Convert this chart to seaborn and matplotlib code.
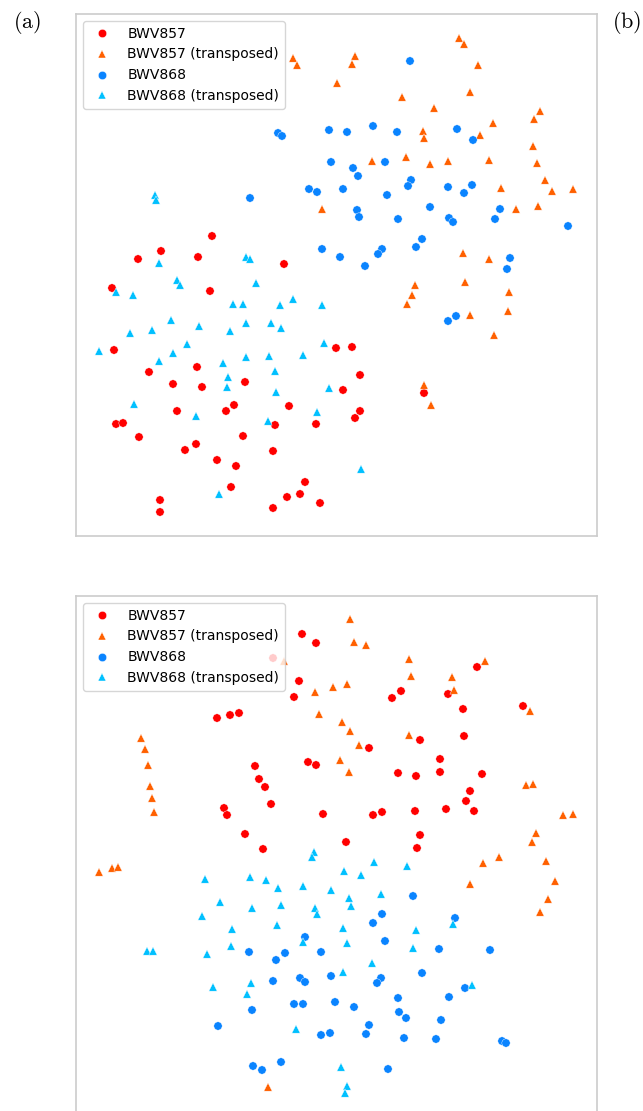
import numpy as np
import pandas as pd
import seaborn as sns
import matplotlib.pyplot as plt

# t-SNE style embedding of two pieces and their transpositions
pieces = ['BWV857', 'BWV857 (transposed)', 'BWV868', 'BWV868 (transposed)']

# panel (a)
a_857 = [(212, 236), (161, 251), (138, 259), (198, 257), (284, 264), (112, 288), (210, 291), (114, 350),
         (149, 372), (197, 367), (173, 384), (202, 387), (245, 382), (234, 405), (226, 411), (177, 411),
         (289, 406), (275, 425), (316, 424), (116, 424), (123, 423), (139, 437), (243, 436), (196, 444),
         (185, 450), (273, 451), (217, 460), (236, 466), (305, 482), (231, 487), (287, 497), (300, 494),
         (320, 503), (160, 500), (160, 512), (273, 508), (336, 348), (352, 347), (360, 375), (343, 390),
         (360, 411), (355, 418), (424, 393)]
a_857t = [(293, 58), (297, 65), (322, 209), (459, 38), (464, 44), (355, 56), (352, 64), (478, 65),
          (337, 83), (470, 92), (402, 97), (434, 108), (540, 111), (534, 119), (493, 123), (423, 131),
          (424, 138), (480, 135), (533, 146), (372, 161), (406, 157), (430, 164), (448, 161), (489, 160),
          (537, 163), (545, 180), (501, 188), (552, 191), (573, 189), (516, 209), (538, 206), (463, 253),
          (489, 259), (465, 282), (415, 285), (412, 295), (407, 304), (509, 292), (508, 311), (470, 315),
          (494, 335), (424, 385), (431, 405)]
a_868 = [(278, 133), (282, 136), (329, 130), (331, 162), (309, 189), (317, 192), (250, 198), (322, 249),
         (410, 61), (347, 132), (373, 126), (397, 132), (457, 129), (473, 140), (353, 168), (358, 176),
         (385, 162), (411, 180), (408, 186), (343, 189), (387, 195), (448, 187), (472, 185), (464, 193),
         (357, 210), (359, 217), (398, 219), (430, 207), (449, 218), (453, 222), (500, 209), (495, 219),
         (568, 226), (422, 239), (416, 247), (382, 249), (378, 254), (340, 257), (365, 266), (510, 258),
         (507, 269), (456, 316), (448, 321)]
a_868t = [(155, 195), (156, 200), (159, 263), (246, 257), (250, 259), (177, 280), (180, 285), (116, 292),
          (133, 295), (256, 283), (233, 304), (243, 304), (280, 305), (293, 299), (322, 305), (171, 320),
          (130, 333), (152, 330), (199, 326), (230, 331), (246, 323), (271, 323), (281, 328), (324, 343),
          (99, 351), (173, 353), (159, 361), (187, 344), (223, 363), (246, 357), (269, 356), (303, 355),
          (275, 371), (228, 377), (227, 387), (276, 392), (329, 388), (134, 404), (196, 416), (268, 421),
          (317, 412), (219, 494), (361, 469)]

# panel (b)
b_857 = [(302, 634), (316, 643), (273, 658), (299, 681), (294, 697), (217, 718), (230, 715), (239, 713),
         (255, 766), (308, 762), (316, 765), (259, 779), (265, 787), (271, 804), (224, 808), (227, 815),
         (323, 814), (245, 834), (263, 849), (477, 667), (401, 691), (392, 698), (448, 694), (463, 709),
         (523, 706), (420, 740), (464, 736), (369, 748), (440, 759), (398, 773), (416, 776), (440, 772),
         (482, 774), (470, 791), (466, 801), (474, 811), (373, 815), (382, 812), (415, 811), (446, 809),
         (420, 835), (417, 848), (346, 842)]
b_857t = [(284, 661), (315, 692), (319, 714), (333, 687), (141, 738), (145, 749), (148, 765), (150, 786),
          (152, 798), (154, 812), (350, 619), (354, 642), (366, 645), (409, 659), (485, 661), (411, 676),
          (452, 677), (454, 690), (347, 684), (530, 711), (342, 722), (350, 731), (409, 735), (359, 745),
          (340, 760), (349, 772), (526, 785), (533, 784), (563, 815), (573, 814), (536, 833), (532, 842),
          (99, 872), (112, 868), (118, 867), (268, 1087), (483, 863), (499, 857), (546, 861), (470, 884),
          (555, 881), (548, 899), (540, 912)]
b_868 = [(305, 937), (249, 952), (276, 960), (285, 953), (321, 952), (273, 981), (300, 978), (305, 982),
         (331, 976), (294, 1004), (303, 1004), (335, 1002), (252, 1010), (218, 1026), (321, 1035),
         (330, 1033), (253, 1066), (262, 1070), (281, 1062), (413, 896), (382, 914), (373, 923), (455, 918),
         (385, 941), (439, 949), (490, 950), (422, 973), (381, 978), (377, 983), (465, 988), (354, 1007),
         (398, 998), (449, 997), (399, 1012), (406, 1018), (441, 1020), (369, 1025), (366, 1034),
         (404, 1038), (436, 1039), (502, 1041), (506, 1043), (388, 1069)]
b_868t = [(314, 852), (312, 857), (205, 879), (250, 877), (266, 880), (278, 888), (303, 886), (331, 890),
          (220, 902), (252, 908), (281, 905), (315, 908), (317, 914), (202, 916), (277, 925), (232, 929),
          (303, 942), (231, 946), (207, 954), (147, 951), (153, 951), (213, 987), (251, 983), (247, 994),
          (296, 1029), (374, 862), (407, 866), (344, 871), (361, 875), (349, 898), (351, 906), (381, 894),
          (343, 928), (347, 943), (416, 930), (413, 948), (372, 963), (343, 972), (453, 924), (472, 985),
          (341, 1067), (347, 1086), (345, 1093)]

colors = {'BWV857': '#ff0000', 'BWV857 (transposed)': '#ff6000',
          'BWV868': '#0a84ff', 'BWV868 (transposed)': '#00c0ff'}
markers = {'BWV857': 'o', 'BWV857 (transposed)': '^',
           'BWV868': 'o', 'BWV868 (transposed)': '^'}


def make_frame(groups):
    rows = []
    for name, pts in zip(pieces, groups):
        for x, y in pts:
            rows.append({'x': x, 'y': y, 'piece': name})
    return pd.DataFrame(rows)


sns.set_style('whitegrid')
plt.rcParams['mathtext.fontset'] = 'cm'
plt.rcParams['text.color'] = 'black'

fig = plt.figure(figsize=(6.43, 11.11), dpi=100)
ax_a = fig.add_axes([76 / 643, 1 - 536 / 1111, 521 / 643, 522 / 1111])
ax_b = fig.add_axes([76 / 643, 1 - 1118 / 1111, 521 / 643, 522 / 1111])

panels = [(ax_a, make_frame([a_857, a_857t, a_868, a_868t]), (536, 14)),
          (ax_b, make_frame([b_857, b_857t, b_868, b_868t]), (1118, 596))]

for ax, df, ylim in panels:
    sns.scatterplot(data=df, x='x', y='y', hue='piece', style='piece',
                    hue_order=pieces, style_order=pieces, palette=colors,
                    markers=markers, s=36, linewidth=0.3, edgecolor='white', ax=ax)
    ax.set_xlim(76, 597)
    ax.set_ylim(*ylim)
    ax.set(xticks=[], yticks=[], xlabel='', ylabel='')
    ax.grid(False)
    for sp in ax.spines.values():
        sp.set_edgecolor('#cccccc')
        sp.set_linewidth(1.2)
    handles, labels = ax.get_legend_handles_labels()
    leg = ax.legend(handles, labels, loc='upper left', fontsize=10, framealpha=0.8)
    for t in leg.get_texts():
        t.set_color('black')

fig.text(27 / 643, 1 - 23 / 1111, r'$\mathrm{(a)}$', ha='center', va='center', fontsize=16)
fig.text(612 / 643, 1 - 23 / 1111, r'$\mathrm{(b)}$', ha='left', va='center', fontsize=16)

fig.savefig('out.png', dpi=100)
